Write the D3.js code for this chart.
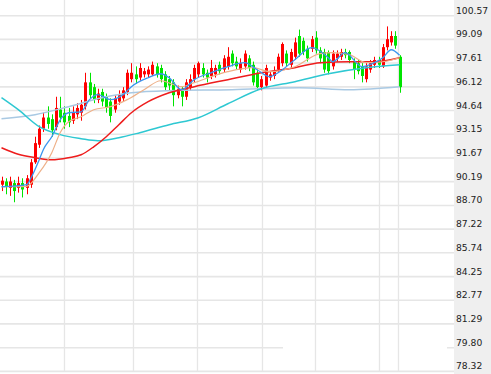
<!DOCTYPE html>
<html>
<head>
<meta charset="utf-8">
<script src="https://cdn.jsdelivr.net/npm/d3@7"></script>
<style>
  body { margin: 0; background: #fff; }
  svg { display: block; }
</style>
</head>
<body>
<div id="chart"></div>
<script>
// daily candles, oldest first
const opens = [90.0, 90.2, 89.8, 90.1, 89.8, 90.1, 89.8, 90.0, 91.4, 92.5,
  93.5, 94.2, 94.1, 93.6, 94.7, 94.5, 94.3, 94.0, 94.4, 94.5,
  94.9, 96.4, 96.1, 95.3, 95.8, 95.5, 95.2, 94.7, 95.2, 95.4,
  95.8, 96.6, 96.9, 96.7, 96.9, 96.9, 96.9, 97.4, 97.3, 96.9,
  96.6, 96.4, 95.6, 96.0, 95.5, 96.1, 96.6, 96.9, 97.3, 97.0,
  96.8, 96.9, 97.5, 97.2, 97.4, 98.2, 97.7, 97.2, 97.4, 97.9,
  97.5, 97.0, 96.1, 96.2, 96.7, 96.8, 97.2, 97.6, 98.2, 97.5,
  98.0, 99.3, 99.0, 98.5, 98.5, 99.2, 98.4, 98.3, 98.3, 97.4,
  97.9, 98.0, 98.3, 98.3, 97.7, 97.6, 97.4, 96.6, 97.2, 97.5,
  97.8, 97.4, 98.6, 98.9, 99.3, 98.0]
const closes = [90.25, 89.9, 90.2, 89.6, 90.1, 89.7, 90.4, 91.4, 92.6, 93.5,
  94.2, 93.8, 93.4, 94.8, 94.2, 93.9, 93.9, 94.5, 94.8, 95.0,
  96.4, 95.6, 95.3, 95.7, 95.2, 94.8, 94.3, 95.4, 95.6, 95.9,
  97.0, 97.0, 96.6, 97.3, 97.1, 97.2, 97.5, 96.9, 96.6, 96.1,
  96.2, 95.6, 96.0, 95.5, 96.4, 96.6, 97.3, 97.6, 96.9, 96.7,
  97.3, 97.3, 97.1, 97.9, 98.0, 97.6, 97.4, 97.6, 98.2, 97.3,
  96.4, 96.1, 96.6, 97.3, 96.9, 97.1, 98.0, 98.8, 97.6, 98.3,
  98.9, 98.2, 98.3, 97.9, 99.1, 98.4, 97.9, 97.2, 97.1, 98.2,
  98.2, 98.3, 98.1, 97.8, 97.2, 97.1, 96.8, 97.4, 97.6, 97.8,
  97.5, 98.6, 99.1, 99.3, 98.7, 96.1]
const highs = [90.5, 90.4, 90.5, 90.3, 90.5, 90.4, 90.6, 91.6, 93.0, 93.7,
  94.5, 94.9, 94.4, 95.5, 95.5, 94.9, 94.8, 94.9, 95.1, 95.3,
  97.0, 97.0, 96.3, 96.0, 96.0, 95.7, 95.4, 95.6, 95.9, 96.1,
  97.2, 97.6, 97.4, 97.6, 97.3, 97.4, 97.7, 97.6, 97.5, 97.1,
  96.8, 96.6, 96.2, 96.1, 96.6, 96.9, 97.5, 97.7, 97.6, 97.2,
  97.8, 97.5, 97.7, 98.1, 98.6, 98.4, 98.0, 97.9, 98.4, 98.1,
  97.7, 97.2, 96.8, 97.5, 97.1, 97.4, 98.2, 98.9, 98.4, 98.5,
  99.2, 99.7, 99.2, 98.7, 99.3, 99.6, 98.6, 98.5, 98.4, 98.4,
  98.4, 98.5, 98.5, 98.4, 97.9, 97.8, 97.6, 97.6, 97.8, 98.0,
  98.0, 98.8, 99.9, 99.6, 99.6, 98.1]
const lows = [89.6, 89.4, 89.3, 88.9, 89.5, 89.2, 89.4, 89.8, 91.3, 92.3,
  93.3, 93.5, 93.0, 93.4, 93.9, 93.5, 93.6, 93.8, 94.1, 94.0,
  94.7, 95.4, 95.1, 95.1, 94.9, 94.5, 93.9, 94.5, 95.0, 95.2,
  95.6, 96.4, 96.3, 96.5, 96.7, 96.7, 96.8, 96.7, 96.4, 95.9,
  95.9, 94.9, 95.4, 94.9, 95.3, 95.9, 96.4, 96.7, 96.7, 96.4,
  96.6, 96.7, 96.9, 97.0, 97.2, 97.4, 97.2, 97.0, 97.2, 97.1,
  96.2, 95.9, 95.9, 96.0, 96.5, 96.6, 97.0, 97.4, 97.4, 97.3,
  97.8, 98.0, 98.1, 97.7, 98.3, 98.2, 97.6, 97.0, 96.9, 97.2,
  97.7, 97.8, 97.9, 97.6, 96.6, 96.9, 96.4, 96.4, 97.0, 97.3,
  97.3, 97.3, 98.4, 98.7, 98.5, 95.75]

// moving averages: [candle index, value]
const maBlue = [[0, 89.87], [6, 90.0], [7, 90.4], [9, 91.56], [10, 92.2], [12, 93.0], [14, 94.06],
  [16, 94.5], [19, 94.56], [21, 95.32], [23, 95.63], [26, 95.32], [29, 95.63], [31, 96.13],
  [35, 96.69], [38, 96.94], [40, 96.69], [43, 95.94], [46, 96.57], [50, 97.0], [54, 97.38],
  [58, 97.63], [61, 97.19], [64, 96.75], [66, 97.0], [70, 97.82], [74, 98.57], [78, 97.94],
  [79, 97.69], [82, 98.26], [86, 97.38], [89, 97.63], [91, 97.94], [93, 98.44], [95, 98.1]]
const maOrange = [[0, 89.87], [6, 89.9], [9, 90.75], [12, 92.0], [14, 93.25], [16, 93.94],
  [19, 94.25], [22, 94.69], [26, 94.88], [30, 95.32], [34, 95.94], [38, 96.5], [43, 96.13],
  [46, 96.38], [54, 97.07], [60, 97.32], [64, 97.07], [70, 97.38], [76, 98.2], [79, 98.26],
  [83, 98.13], [87, 97.63], [91, 97.69], [95, 97.94]]
const maRed = [[0, 92.31], [4, 91.9], [8, 91.69], [12, 91.56], [16, 91.69], [19, 91.87],
  [22, 92.37], [25, 93.0], [28, 93.75], [31, 94.5], [35, 95.19], [40, 95.75], [46, 96.13],
  [54, 96.57], [62, 97.0], [70, 97.32], [76, 97.63], [83, 97.69], [89, 97.69], [95, 97.94]]
const maCyan = [[0, 95.44], [4, 94.69], [9, 93.63], [14, 93.13], [19, 92.88], [23, 92.75],
  [28, 92.94], [33, 93.25], [40, 93.75], [47, 94.19], [54, 95.06], [62, 96.0], [70, 96.44],
  [78, 96.94], [87, 97.32], [95, 97.5]]
const maPale = [[0, 94.13], [8, 94.38], [16, 94.88], [24, 95.44], [31, 95.75], [40, 95.88],
  [55, 95.94], [71, 96.07], [83, 95.94], [95, 96.13]]

const yTicks = [100.57, 99.09, 97.61, 96.12, 94.64, 93.15, 91.67, 90.19, 88.70,
  87.22, 85.74, 84.25, 82.77, 81.29, 79.80, 78.32]
// month boundaries, in candle index units
const monthBreaks = [15, 31.46, 46.73, 62.24, 74.89, 90.17, 94.73]

const width = 491
const height = 374
const plotRight = 454

const svg = d3.select("#chart").append("svg")
  .attr("width", width)
  .attr("height", height)

const x = d3.scaleLinear()
  .domain([0, closes.length - 1])
  .range([1.5, 399.6])

const y = d3.scaleLinear()
  .domain([78.32, 100.57])
  .range([371.4, 15.7])

// price axis strip
svg.append("rect")
  .attr("x", plotRight)
  .attr("y", 0)
  .attr("width", width - plotRight)
  .attr("height", height)
  .attr("fill", "#efefef")

svg.append("g")
  .selectAll("line")
  .data(yTicks)
  .join("line")
  .attr("x1", 0)
  .attr("x2", plotRight)
  .attr("y1", d => y(d))
  .attr("y2", d => y(d))
  .attr("stroke", "#e6e6e6")
  .attr("stroke-width", 1.6)

// blank patch near the bottom
svg.append("rect")
  .attr("x", 283)
  .attr("y", 336)
  .attr("width", 164)
  .attr("height", 20)
  .attr("fill", "#fff")

svg.append("g")
  .selectAll("line")
  .data(monthBreaks)
  .join("line")
  .attr("x1", d => Math.round(x(d)) + 0.5)
  .attr("x2", d => Math.round(x(d)) + 0.5)
  .attr("y1", 0)
  .attr("y2", y(78.32))
  .attr("stroke", "#e6e6e6")
  .attr("stroke-width", 1.3)

svg.append("g")
  .selectAll("text")
  .data(yTicks)
  .join("text")
  .attr("x", plotRight + 2)
  .attr("y", d => y(d) - 2)
  .attr("font-family", "DejaVu Sans, Tahoma, sans-serif")
  .attr("font-size", 9.2)
  .attr("fill", "#222")
  .text(d => d.toFixed(2))

const candles = closes.map((c, i) => ({ i, o: opens[i], h: highs[i], l: lows[i], c }))
const upColor = "#ff0000"
const downColor = "#00e400"
const bodyW = 3

const cg = svg.append("g")
cg.selectAll("line")
  .data(candles)
  .join("line")
  .attr("x1", d => Math.round(x(d.i)) + 0.5)
  .attr("x2", d => Math.round(x(d.i)) + 0.5)
  .attr("y1", d => y(d.h))
  .attr("y2", d => y(d.l))
  .attr("stroke", d => d.c >= d.o ? upColor : downColor)
  .attr("stroke-width", 1)

cg.selectAll("rect")
  .data(candles)
  .join("rect")
  .attr("x", d => Math.round(x(d.i)) - 1)
  .attr("y", d => y(Math.max(d.o, d.c)))
  .attr("width", bodyW)
  .attr("height", d => Math.max(1, Math.abs(y(d.o) - y(d.c))))
  .attr("fill", d => d.c >= d.o ? upColor : downColor)

const line = d3.line()
  .x(d => x(d[0]))
  .y(d => y(d[1]))
  .curve(d3.curveMonotoneX)

const averages = [
  { data: maPale, color: "#a9c9e3", w: 1.5 },
  { data: maCyan, color: "#2ec8d2", w: 1.5 },
  { data: maRed, color: "#ee1c1c", w: 1.5 },
  { data: maOrange, color: "#eeb088", w: 1.2 },
  { data: maBlue, color: "#3a96f0", w: 1.3 }
]

svg.append("g")
  .selectAll("path")
  .data(averages)
  .join("path")
  .attr("fill", "none")
  .attr("stroke", d => d.color)
  .attr("stroke-width", d => d.w)
  .attr("d", d => line(d.data))
</script>
</body>
</html>
